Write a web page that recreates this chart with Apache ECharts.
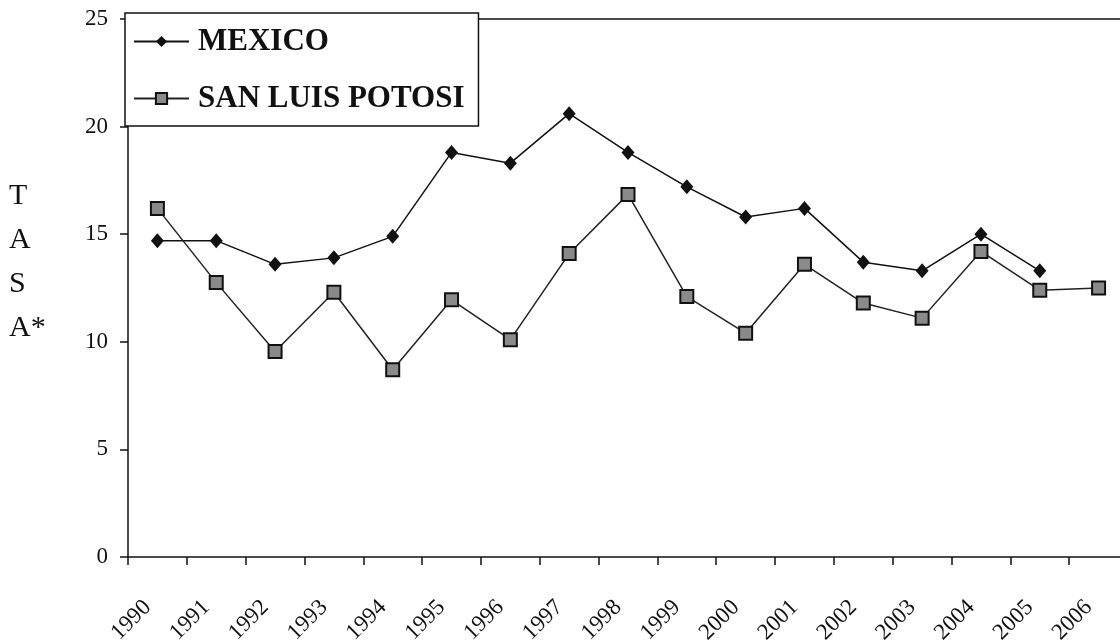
<!DOCTYPE html>
<html>
<head>
<meta charset="utf-8">
<script src="https://cdn.jsdelivr.net/npm/echarts@6/dist/echarts.min.js"></script>
<style>
  html, body { margin: 0; padding: 0; background: #fff; }
  #coolgraph { width: 1120px; height: 642px; }
</style>
</head>
<body>
<div id="coolgraph"></div>
<script>
var years = ['1990', '1991', '1992', '1993', '1994', '1995', '1996', '1997', '1998',
  '1999', '2000', '2001', '2002', '2003', '2004', '2005', '2006'];
var mexico = [14.7, 14.7, 13.6, 13.9, 14.9, 18.8, 18.3, 20.6, 18.8, 17.2, 15.8, 16.2, 13.7, 13.3, 15.0, 13.3, null];
var sanLuis = [16.2, 12.75, 9.55, 12.3, 8.7, 11.95, 10.1, 14.1, 16.85, 12.1, 10.4, 13.6, 11.8, 11.1, 14.2, 12.4, 12.5];
var yTicks = [0, 5, 10, 15, 20, 25];

var serif = '"Liberation Serif", "DejaVu Serif", serif';
var chartDom = document.getElementById('coolgraph');
var myChart = echarts.init(chartDom);
var option;

option = {
  backgroundColor: '#fff',
  animation: false,
  grid: {
    left: 128,
    top: 19,
    width: 1000,
    height: 538,
    containLabel: false,
    outerBoundsMode: 'none'
  },
  legend: {
    left: 125,
    top: 13,
    orient: 'vertical',
    backgroundColor: '#fff',
    borderColor: '#111',
    borderWidth: 1.5,
    padding: [13, 14, 12, 8],
    itemGap: 26,
    itemWidth: 55,
    itemHeight: 14,
    textStyle: {
      fontFamily: serif,
      fontSize: 31,
      fontWeight: 'bold',
      color: '#111',
      padding: [0, 0, 0, 4]
    },
    data: ['MEXICO', 'SAN LUIS POTOSI']
  },
  xAxis: [
    {
      type: 'category',
      data: years,
      boundaryGap: true,
      axisLine: { lineStyle: { color: '#111', width: 1.5 } },
      axisTick: { show: true, length: 8, lineStyle: { color: '#111', width: 1.5 } },
      axisLabel: {
        rotate: 45,
        margin: 37,
        padding: [0, 14, 27, 0],
        fontFamily: serif,
        fontSize: 23,
        color: '#111'
      }
    },
    {
      type: 'category',
      position: 'top',
      data: years,
      axisLine: { show: true, lineStyle: { color: '#111', width: 1.5 } },
      axisTick: { show: false },
      axisLabel: { show: false }
    }
  ],
  yAxis: {
    type: 'value',
    min: yTicks[0],
    max: yTicks[yTicks.length - 1],
    interval: 5,
    axisLine: { show: true, lineStyle: { color: '#111', width: 1.5 } },
    axisTick: { show: true, length: 8, lineStyle: { color: '#111', width: 1.5 } },
    splitLine: { show: false },
    axisLabel: {
      margin: 20,
      fontFamily: serif,
      fontSize: 23,
      color: '#111'
    }
  },
  graphic: [
    {
      type: 'text',
      left: 9,
      top: 174,
      style: {
        text: 'T\nA\nS\nA*',
        fontFamily: serif,
        fontSize: 30,
        lineHeight: 44,
        fill: '#111'
      }
    }
  ],
  series: [
    {
      name: 'MEXICO',
      type: 'line',
      data: mexico,
      symbol: 'diamond',
      symbolSize: [13, 15],
      lineStyle: { color: '#111', width: 1.5 },
      itemStyle: { color: '#111' }
    },
    {
      name: 'SAN LUIS POTOSI',
      type: 'line',
      data: sanLuis,
      symbol: 'rect',
      symbolSize: 13,
      lineStyle: { color: '#222', width: 1.5 },
      itemStyle: { color: '#8a8a8a', borderColor: '#111', borderWidth: 2 }
    }
  ]
};

option && myChart.setOption(option);
</script>
</body>
</html>
